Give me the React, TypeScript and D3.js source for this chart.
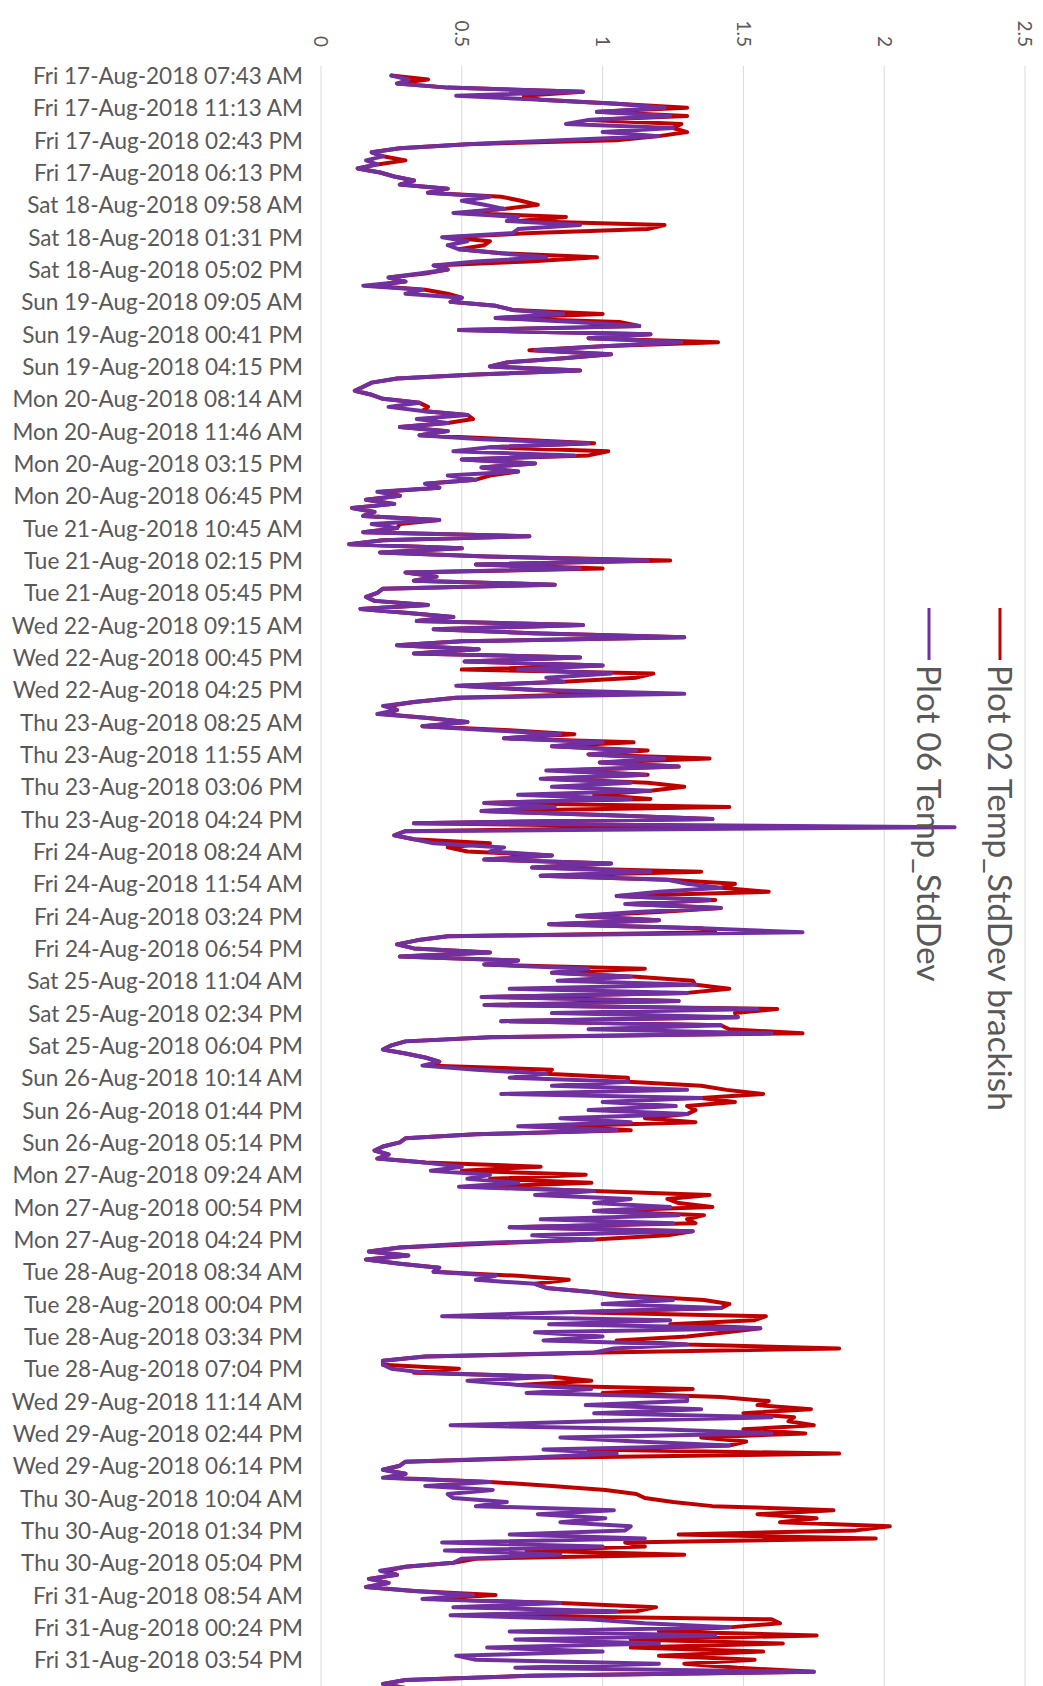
import React from 'react';
import * as d3 from 'd3';

const timeLabels: string[] = [
  'Fri 17-Aug-2018 07:43 AM', 'Fri 17-Aug-2018 11:13 AM', 'Fri 17-Aug-2018 02:43 PM', 'Fri 17-Aug-2018 06:13 PM',
  'Sat 18-Aug-2018 09:58 AM', 'Sat 18-Aug-2018 01:31 PM', 'Sat 18-Aug-2018 05:02 PM',
  'Sun 19-Aug-2018 09:05 AM', 'Sun 19-Aug-2018 00:41 PM', 'Sun 19-Aug-2018 04:15 PM',
  'Mon 20-Aug-2018 08:14 AM', 'Mon 20-Aug-2018 11:46 AM', 'Mon 20-Aug-2018 03:15 PM', 'Mon 20-Aug-2018 06:45 PM',
  'Tue 21-Aug-2018 10:45 AM', 'Tue 21-Aug-2018 02:15 PM', 'Tue 21-Aug-2018 05:45 PM',
  'Wed 22-Aug-2018 09:15 AM', 'Wed 22-Aug-2018 00:45 PM', 'Wed 22-Aug-2018 04:25 PM',
  'Thu 23-Aug-2018 08:25 AM', 'Thu 23-Aug-2018 11:55 AM', 'Thu 23-Aug-2018 03:06 PM', 'Thu 23-Aug-2018 04:24 PM',
  'Fri 24-Aug-2018 08:24 AM', 'Fri 24-Aug-2018 11:54 AM', 'Fri 24-Aug-2018 03:24 PM', 'Fri 24-Aug-2018 06:54 PM',
  'Sat 25-Aug-2018 11:04 AM', 'Sat 25-Aug-2018 02:34 PM', 'Sat 25-Aug-2018 06:04 PM',
  'Sun 26-Aug-2018 10:14 AM', 'Sun 26-Aug-2018 01:44 PM', 'Sun 26-Aug-2018 05:14 PM',
  'Mon 27-Aug-2018 09:24 AM', 'Mon 27-Aug-2018 00:54 PM', 'Mon 27-Aug-2018 04:24 PM',
  'Tue 28-Aug-2018 08:34 AM', 'Tue 28-Aug-2018 00:04 PM', 'Tue 28-Aug-2018 03:34 PM', 'Tue 28-Aug-2018 07:04 PM',
  'Wed 29-Aug-2018 11:14 AM', 'Wed 29-Aug-2018 02:44 PM', 'Wed 29-Aug-2018 06:14 PM',
  'Thu 30-Aug-2018 10:04 AM', 'Thu 30-Aug-2018 01:34 PM', 'Thu 30-Aug-2018 05:04 PM',
  'Fri 31-Aug-2018 08:54 AM', 'Fri 31-Aug-2018 00:24 PM', 'Fri 31-Aug-2018 03:54 PM',
];

// readings between consecutive time labels (8 readings per label step)
const plot02: number[] = [
  0.25, 0.38, 0.27, 0.45, 0.93, 0.72, 0.78, 1.05,
  1.30, 0.98, 1.30, 0.95, 1.28, 1.25, 1.30, 1.20,
  1.05, 0.52, 0.28, 0.18, 0.22, 0.30, 0.20, 0.13,
  0.21, 0.26, 0.33, 0.28, 0.45, 0.38, 0.64, 0.71,
  0.77, 0.65, 0.50, 0.87, 0.70, 1.22, 1.16, 0.75,
  0.45, 0.60, 0.58, 0.49, 0.64, 0.98, 0.74, 0.40,
  0.45, 0.37, 0.24, 0.30, 0.18, 0.37, 0.45, 0.50,
  0.46, 0.62, 0.68, 1.00, 0.62, 1.06, 1.13, 0.49,
  1.17, 0.95, 1.41, 1.00, 0.74, 1.03, 0.85, 0.66,
  0.60, 0.92, 0.55, 0.27, 0.18, 0.15, 0.12, 0.18,
  0.22, 0.35, 0.38, 0.36, 0.52, 0.54, 0.45, 0.28,
  0.45, 0.35, 0.67, 0.97, 0.60, 1.02, 0.95, 0.50,
  0.76, 0.57, 0.70, 0.60, 0.55, 0.37, 0.42, 0.22,
  0.28, 0.16, 0.26, 0.11, 0.19, 0.15, 0.42, 0.28,
  0.27, 0.15, 0.74, 0.22, 0.10, 0.50, 0.21, 0.59,
  1.24, 0.55, 1.00, 0.30, 0.41, 0.33, 0.83, 0.22,
  0.20, 0.16, 0.19, 0.38, 0.14, 0.31, 0.47, 0.34,
  0.93, 0.40, 0.75, 1.29, 0.50, 0.27, 0.56, 0.33,
  0.92, 0.51, 1.00, 0.50, 1.18, 1.12, 0.86, 0.50,
  0.75, 1.00, 0.48, 0.33, 0.24, 0.27, 0.22, 0.38,
  0.52, 0.36, 0.67, 0.90, 0.65, 1.11, 0.82, 1.16,
  0.95, 1.38, 0.99, 1.27, 0.85, 1.16, 0.80, 1.16,
  1.29, 1.17, 0.97, 1.17, 0.58, 1.45, 0.57, 1.00,
  1.39, 0.33, 1.38, 0.30, 0.26, 0.33, 0.60, 0.45,
  0.52, 0.82, 0.58, 1.03, 0.75, 1.35, 0.78, 1.23,
  1.47, 1.42, 1.59, 1.05, 1.40, 1.10, 1.42, 1.20,
  0.91, 1.20, 0.81, 1.35, 1.40, 0.45, 0.34, 0.27,
  0.33, 0.60, 0.28, 0.70, 0.58, 1.15, 0.82, 1.12,
  1.32, 1.33, 1.45, 1.30, 0.60, 1.27, 0.60, 1.62,
  1.47, 1.48, 0.64, 1.42, 1.45, 1.71, 0.60, 0.30,
  0.25, 0.22, 0.30, 0.37, 0.42, 0.40, 0.82, 0.80,
  1.09, 1.09, 1.35, 1.44, 1.57, 1.35, 1.47, 1.30,
  1.33, 1.30, 1.15, 1.33, 0.85, 1.10, 0.55, 0.30,
  0.28, 0.22, 0.19, 0.24, 0.20, 0.37, 0.78, 0.50,
  0.94, 0.60, 0.96, 0.55, 0.97, 1.38, 1.23, 1.27,
  1.39, 0.97, 1.36, 1.30, 1.33, 0.67, 1.32, 1.23,
  0.97, 0.60, 0.28, 0.17, 0.31, 0.16, 0.28, 0.42,
  0.40, 0.70, 0.88, 0.76, 0.80, 0.96, 1.12, 1.36,
  1.45, 1.42, 0.90, 1.58, 1.54, 1.24, 1.56, 1.44,
  1.30, 1.05, 1.30, 1.84, 1.00, 0.37, 0.22, 0.22,
  0.49, 0.33, 0.82, 0.96, 0.70, 1.32, 1.00, 1.42,
  1.59, 1.55, 1.74, 1.50, 1.68, 1.66, 1.75, 1.50,
  1.72, 1.35, 1.51, 1.45, 0.95, 1.84, 0.80, 0.30,
  0.28, 0.22, 0.30, 0.25, 0.60, 0.82, 1.01, 1.12,
  1.15, 1.25, 1.39, 1.82, 1.55, 1.76, 1.63, 2.02,
  1.90, 1.27, 1.97, 1.08, 1.15, 0.73, 1.29, 0.55,
  0.47, 0.30, 0.23, 0.27, 0.17, 0.24, 0.16, 0.33,
  0.62, 0.40, 0.85, 1.19, 1.12, 0.50, 1.60, 1.63,
  1.45, 1.20, 1.76, 1.10, 1.64, 1.10, 1.57, 1.20,
  1.54, 1.29, 1.48, 1.75, 0.74, 0.30, 0.22, 0.30,
  0.45, 0.70,
];

const plot06: number[] = [
  0.25, 0.31, 0.27, 0.45, 0.93, 0.48, 0.78, 1.05,
  1.22, 0.98, 1.24, 0.95, 0.87, 1.25, 1.00, 1.20,
  0.85, 0.52, 0.28, 0.18, 0.22, 0.16, 0.20, 0.13,
  0.21, 0.26, 0.33, 0.28, 0.45, 0.38, 0.60, 0.50,
  0.58, 0.65, 0.47, 0.70, 0.66, 0.92, 0.70, 0.68,
  0.43, 0.52, 0.45, 0.49, 0.64, 0.80, 0.55, 0.40,
  0.45, 0.35, 0.24, 0.30, 0.15, 0.36, 0.30, 0.50,
  0.46, 0.62, 0.68, 0.86, 0.62, 0.90, 1.13, 0.49,
  1.17, 0.95, 1.28, 1.00, 0.76, 1.03, 0.85, 0.66,
  0.60, 0.92, 0.55, 0.27, 0.18, 0.15, 0.12, 0.18,
  0.22, 0.35, 0.24, 0.36, 0.52, 0.34, 0.45, 0.28,
  0.45, 0.35, 0.57, 0.95, 0.60, 0.47, 0.90, 0.50,
  0.76, 0.57, 0.70, 0.45, 0.55, 0.37, 0.42, 0.20,
  0.28, 0.16, 0.26, 0.11, 0.19, 0.15, 0.42, 0.18,
  0.27, 0.15, 0.74, 0.22, 0.10, 0.50, 0.21, 0.59,
  1.16, 0.55, 0.92, 0.30, 0.41, 0.33, 0.83, 0.22,
  0.20, 0.16, 0.19, 0.38, 0.14, 0.31, 0.47, 0.34,
  0.93, 0.40, 0.75, 1.29, 0.50, 0.27, 0.56, 0.33,
  0.92, 0.51, 1.00, 0.70, 1.03, 0.80, 0.86, 0.48,
  0.75, 1.29, 0.48, 0.33, 0.22, 0.27, 0.20, 0.38,
  0.52, 0.36, 0.60, 0.85, 0.65, 1.00, 0.82, 1.12,
  0.95, 1.22, 0.99, 1.27, 0.80, 1.15, 0.78, 1.10,
  0.82, 1.17, 0.70, 1.10, 0.58, 0.83, 0.57, 1.00,
  1.39, 0.33, 2.25, 0.30, 0.26, 0.33, 0.40, 0.65,
  0.60, 0.82, 0.58, 1.03, 0.75, 1.17, 0.78, 1.23,
  1.30, 1.42, 1.20, 1.05, 1.38, 1.08, 1.42, 1.12,
  0.91, 1.20, 0.81, 1.35, 1.71, 0.45, 0.34, 0.27,
  0.33, 0.60, 0.28, 0.70, 0.58, 0.95, 0.82, 1.10,
  0.84, 1.33, 0.67, 1.30, 0.57, 1.27, 0.58, 1.55,
  0.82, 1.48, 0.64, 1.42, 0.95, 1.60, 0.60, 0.30,
  0.25, 0.22, 0.30, 0.37, 0.42, 0.36, 0.55, 0.80,
  0.67, 1.09, 0.82, 1.30, 0.64, 1.35, 1.00, 1.26,
  0.95, 1.30, 0.85, 1.10, 0.70, 1.05, 0.55, 0.30,
  0.28, 0.22, 0.19, 0.24, 0.20, 0.37, 0.50, 0.39,
  0.60, 0.52, 0.70, 0.49, 0.97, 0.76, 1.10, 0.97,
  1.24, 0.97, 1.27, 0.78, 1.25, 0.67, 1.32, 0.75,
  0.97, 0.52, 0.28, 0.17, 0.31, 0.16, 0.28, 0.42,
  0.40, 0.62, 0.55, 0.76, 0.80, 0.96, 1.05, 1.25,
  1.00, 1.42, 0.87, 0.43, 1.24, 0.81, 1.56, 0.76,
  1.00, 0.79, 1.30, 1.04, 0.97, 0.37, 0.22, 0.22,
  0.25, 0.37, 0.82, 0.52, 0.70, 0.96, 0.73, 1.30,
  1.30, 0.94, 1.35, 0.97, 1.60, 0.97, 0.46, 1.20,
  1.60, 0.85, 1.12, 1.45, 0.79, 1.05, 0.73, 0.30,
  0.28, 0.22, 0.30, 0.22, 0.60, 0.37, 0.61, 0.45,
  0.47, 0.66, 0.55, 1.04, 0.77, 1.01, 0.85, 1.10,
  1.08, 0.67, 1.15, 0.43, 1.00, 0.44, 0.85, 0.50,
  0.47, 0.30, 0.21, 0.27, 0.17, 0.24, 0.16, 0.33,
  0.54, 0.36, 0.85, 0.47, 1.05, 0.46, 0.95, 1.15,
  1.45, 0.67, 1.40, 0.69, 1.20, 0.59, 1.00, 0.48,
  0.55, 1.20, 0.69, 1.75, 0.74, 0.30, 0.22, 0.30,
  0.45, 0.70,
];

const valueTicks: number[] = [0, 0.5, 1, 1.5, 2, 2.5];
const seriesNames: string[] = ['Plot 02 Temp_StdDev brackish', 'Plot 06 Temp_StdDev'];
const seriesColors: string[] = ['#C00000', '#7030A0'];
const readingsPerLabel = 8;

const FONT = "Lato, 'Open Sans', 'DejaVu Sans', sans-serif";
const TEXT = '#595959';

export default function App() {
  const W = 1043;
  const H = 1686;
  const x = d3.scaleLinear().domain([0, 2.5]).range([321, 1025]);
  const y = d3
    .scaleLinear()
    .domain([0, (timeLabels.length - 1) * readingsPerLabel])
    .range([75.5, 1659.7]);

  const line = d3
    .line<number>()
    .x((d) => x(d))
    .y((_d, i) => y(i));

  const series = [plot02, plot06];
  const plotTop = 66;

  return (
    <svg
      width={W}
      height={H}
      style={{ position: 'absolute', left: 0, top: 0, background: '#fff' }}
    >
      <rect x={0} y={0} width={W} height={H} fill="#fff" />
      {valueTicks.map((t) => (
        <line
          key={'g' + t}
          x1={x(t)}
          x2={x(t)}
          y1={plotTop}
          y2={H}
          stroke="#D9D9D9"
          strokeWidth={1}
        />
      ))}
      {valueTicks.map((t) => (
        <text
          key={'t' + t}
          transform={`translate(${x(t)},47) rotate(90)`}
          textAnchor="end"
          dy="0.35em"
          fontFamily={FONT}
          fontSize={19}
          fill={TEXT}
        >
          {String(t)}
        </text>
      ))}
      {timeLabels.map((lab, k) => (
        <text
          key={'c' + k}
          x={303}
          y={y(k * readingsPerLabel)}
          textAnchor="end"
          dominantBaseline="central"
          fontFamily={FONT}
          fontSize={22.5}
          fill={TEXT}
        >
          {lab}
        </text>
      ))}
      {series.map((s, si) => (
        <path
          key={'s' + si}
          d={line(s) || ''}
          fill="none"
          stroke={seriesColors[si]}
          strokeWidth={4}
          strokeLinejoin="round"
          strokeLinecap="round"
        />
      ))}
      {seriesNames.map((name, si) => {
        const lx = si === 0 ? 1000 : 929;
        return (
          <g key={'l' + si}>
            <line x1={lx} x2={lx} y1={608} y2={660} stroke={seriesColors[si]} strokeWidth={3} />
            <text
              transform={`translate(${lx},665) rotate(90)`}
              textAnchor="start"
              dy="0.35em"
              fontFamily={FONT}
              fontSize={33.5}
              fill={TEXT}
            >
              {name}
            </text>
          </g>
        );
      })}
    </svg>
  );
}
